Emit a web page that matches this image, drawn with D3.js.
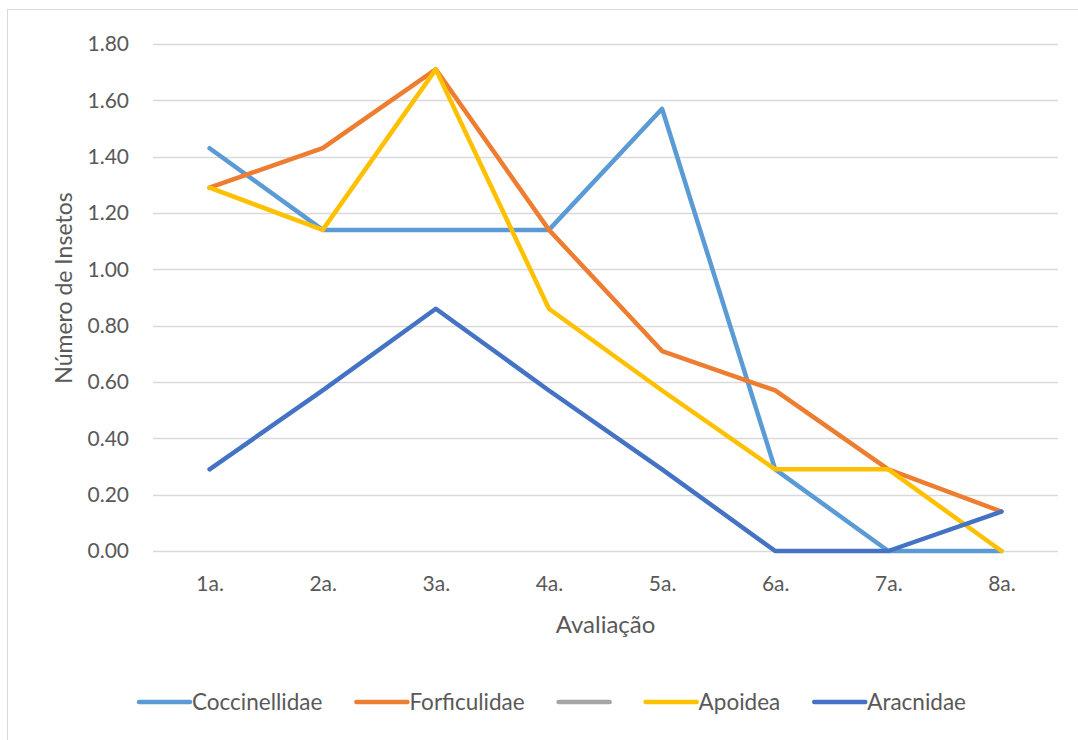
<!DOCTYPE html>
<html>
<head>
<meta charset="utf-8">
<script src="https://cdn.jsdelivr.net/npm/d3@7"></script>
<style>
  html, body { margin: 0; padding: 0; background: #fff; }
  svg { display: block; font-family: Lato, "Open Sans", sans-serif; }
</style>
</head>
<body>
<svg id="chart" width="1078" height="740"></svg>
<script>
// Avaliações (evaluation rounds) along the x axis
const categories = ["1a.", "2a.", "3a.", "4a.", "5a.", "6a.", "7a.", "8a."];

// Mean number of insects per evaluation, by family
const coccinellidae = [1.43, 1.14, 1.14, 1.14, 1.57, 0.29, 0.00, 0.00];
const forficulidae  = [1.29, 1.43, 1.71, 1.14, 0.71, 0.57, 0.29, 0.14];
const unnamed       = [];   // empty series, shown only in the legend
const apoidea       = [1.29, 1.14, 1.71, 0.86, 0.57, 0.29, 0.29, 0.00];
const aracnidae     = [0.29, 0.57, 0.86, 0.57, 0.29, 0.00, 0.00, 0.14];

const seriesNames = ["Coccinellidae", "Forficulidae", "", "Apoidea", "Aracnidae"];
const seriesValues = [coccinellidae, forficulidae, unnamed, apoidea, aracnidae];
const seriesColors = ["#5B9BD5", "#ED7D31", "#A5A5A5", "#FFC000", "#4472C4"];

const yTicks = [0, 0.2, 0.4, 0.6, 0.8, 1.0, 1.2, 1.4, 1.6, 1.8];

const svg = d3.select("#chart");
const plot = { left: 153, right: 1058, top: 44, bottom: 551 };

// chart frame
svg.append("rect")
  .attr("x", 7.5).attr("y", 9.5)
  .attr("width", 1200).attr("height", 1000)
  .attr("fill", "none").attr("stroke", "#D9D9D9").attr("stroke-width", 1);

const x = d3.scalePoint()
  .domain(categories)
  .range([plot.left, plot.right])
  .padding(0.5);

const y = d3.scaleLinear()
  .domain([0, 1.8])
  .range([plot.bottom, plot.top]);

// horizontal gridlines
svg.append("g")
  .selectAll("line")
  .data(yTicks)
  .join("line")
  .attr("x1", plot.left).attr("x2", plot.right)
  .attr("y1", d => Math.round(y(d)) + 0.5)
  .attr("y2", d => Math.round(y(d)) + 0.5)
  .attr("stroke", "#D9D9D9").attr("stroke-width", 1.5);

// y axis labels
const yAxis = svg.append("g")
  .attr("transform", `translate(${plot.left - 24},0)`)
  .call(d3.axisLeft(y).tickValues(yTicks).tickFormat(d3.format(".2f")).tickSize(0).tickPadding(0));
yAxis.select(".domain").remove();
yAxis.selectAll("text")
  .attr("fill", "#595959")
  .style("font-size", "21px")
  .style("font-family", "Lato, 'Open Sans', sans-serif");

// x axis labels
const xAxis = svg.append("g")
  .attr("transform", `translate(0,${plot.bottom + 25})`)
  .call(d3.axisBottom(x).tickSize(0).tickPadding(0));
xAxis.select(".domain").remove();
xAxis.selectAll("text")
  .attr("fill", "#595959")
  .style("font-size", "21px")
  .style("font-family", "Lato, 'Open Sans', sans-serif");

// axis titles
svg.append("text")
  .attr("x", (plot.left + plot.right) / 2).attr("y", 633)
  .attr("text-anchor", "middle")
  .attr("fill", "#595959").style("font-size", "24px")
  .text("Avaliação");

svg.append("text")
  .attr("transform", "translate(72,288) rotate(-90)")
  .attr("text-anchor", "middle")
  .attr("fill", "#595959").style("font-size", "23px")
  .text("Número de Insetos");

// series lines
const line = d3.line()
  .x((d, i) => x(categories[i]))
  .y(d => y(d));

svg.append("g")
  .selectAll("path")
  .data(seriesValues.map((v, i) => ({ v, c: seriesColors[i] })).filter(s => s.v.length))
  .join("path")
  .attr("d", s => line(s.v))
  .attr("fill", "none")
  .attr("stroke", s => s.c)
  .attr("stroke-width", 4.5)
  .attr("stroke-linejoin", "round")
  .attr("stroke-linecap", "round");

// legend
const legend = svg.append("g");
let lx = 137;
const ly = 702;
seriesNames.forEach((name, i) => {
  legend.append("line")
    .attr("x1", lx + 2).attr("x2", lx + 53)
    .attr("y1", ly).attr("y2", ly)
    .attr("stroke", seriesColors[i]).attr("stroke-width", 4.5)
    .attr("stroke-linecap", "round");
  lx += 55;
  const t = legend.append("text")
    .attr("x", lx).attr("y", ly + 8)
    .attr("fill", "#595959").style("font-size", "22.5px")
    .text(name);
  lx += (name ? t.node().getComputedTextLength() : 0) + 32;
});
</script>
</body>
</html>
